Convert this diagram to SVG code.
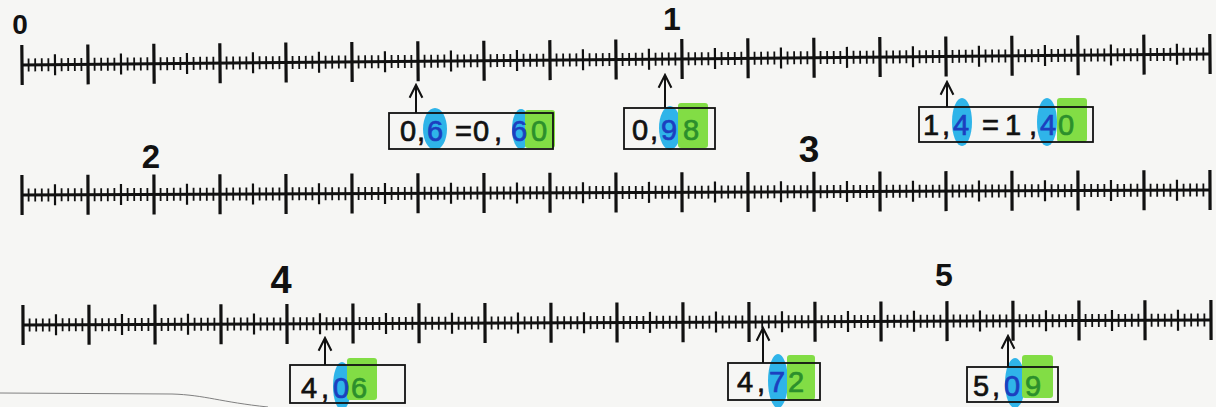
<svg xmlns="http://www.w3.org/2000/svg" width="1216" height="407" viewBox="0 0 1216 407">
<style>
.axis{stroke:#111;stroke-width:3;fill:none}
.minor{stroke:#111;stroke-width:13;stroke-dasharray:1.8 4.8;fill:none}
.mid{stroke:#111;stroke-width:21;stroke-dasharray:2.2 63.8;fill:none}
.major{stroke:#111;stroke-width:40;stroke-dasharray:3.2 62.8;fill:none}
.lbl{font-family:"Liberation Sans",Arial,sans-serif;font-weight:bold;fill:#111;text-anchor:middle}
.box{fill:none;stroke:#111;stroke-width:1.8}
.num{font-family:"Liberation Sans",Arial,sans-serif;font-size:29px;fill:#111;stroke:#111;stroke-width:0.7}
.hb{fill:#2fb4e9}
.hg{fill:#82dd45}
.tb{fill:#1c3fbf;stroke:#1c3fbf}
.tg{fill:#2c8f2c;stroke:#2c8f2c}
.arr{stroke:#111;stroke-width:2;fill:none;marker-end:url(#head)}
</style>
<defs>
<marker id="head" viewBox="0 0 10 10" refX="9" refY="5" markerUnits="userSpaceOnUse" markerWidth="16" markerHeight="16" orient="auto">
<path d="M1,1 L9,5 L1,9" fill="none" stroke="#111" stroke-width="1.3"/>
</marker>
<g id="ruler">
<line class="axis" x1="0" y1="0" x2="1188" y2="0"/>
<line class="minor" x1="-0.9" y1="0" x2="1189" y2="0"/>
<line class="mid" x1="31.9" y1="0" x2="1189" y2="0"/>
<line class="major" x1="-1.6" y1="0" x2="1189.8" y2="0"/>
</g>
</defs>
<rect width="1216" height="407" fill="#f6f6f4"/>
<path d="M0,393 L172,394 C205,395 220,402 268,407" fill="none" stroke="#808080" stroke-width="1"/>

<g id="line1" transform="translate(22,65) rotate(-0.53)"><use href="#ruler"/></g>
<g id="line2" transform="translate(22,195) rotate(-0.24)"><use href="#ruler"/></g>
<g id="line3" transform="translate(23,325) rotate(-0.24)"><use href="#ruler"/></g>

<g id="labels">
<text class="lbl" x="20" y="34" font-size="28">0</text>
<text class="lbl" x="672" y="30" font-size="32">1</text>
<text class="lbl" x="151" y="168" font-size="33">2</text>
<text class="lbl" x="809" y="162" font-size="37">3</text>
<text class="lbl" x="281" y="293" font-size="38">4</text>
<text class="lbl" x="944" y="286" font-size="32">5</text>
</g>

<g id="box1">
<ellipse class="hb" cx="435" cy="129" rx="12" ry="21"/>
<ellipse class="hb" cx="521" cy="129" rx="9" ry="20"/>
<rect class="hg" x="525" y="110" width="30" height="38" rx="3"/>
<rect class="box" x="389" y="113" width="164" height="36"/>
<text class="num" y="141"><tspan x="400">0</tspan><tspan x="417">,</tspan><tspan x="427" class="tb">6</tspan><tspan x="455">=</tspan><tspan x="473">0</tspan><tspan x="494">,</tspan><tspan x="511" class="tb">6</tspan><tspan x="531" class="tg">0</tspan></text>
</g>

<g id="box2">
<ellipse class="hb" cx="670" cy="128" rx="11" ry="22"/>
<rect class="hg" x="678" y="103" width="30" height="45" rx="3"/>
<rect class="box" x="624" y="108" width="91" height="41"/>
<text class="num" y="140"><tspan x="632">0</tspan><tspan x="650">,</tspan><tspan x="661" class="tb">9</tspan><tspan x="683" class="tg">8</tspan></text>
</g>

<g id="box3">
<ellipse class="hb" cx="962" cy="122" rx="10" ry="24"/>
<ellipse class="hb" cx="1047" cy="122" rx="10" ry="24"/>
<rect class="hg" x="1057" y="98" width="30" height="44" rx="3"/>
<rect class="box" x="919" y="107" width="174" height="35"/>
<text class="num" y="135"><tspan x="923">1</tspan><tspan x="942">,</tspan><tspan x="953" class="tb">4</tspan><tspan x="982">=</tspan><tspan x="1005">1</tspan><tspan x="1029">,</tspan><tspan x="1040" class="tb">4</tspan><tspan x="1058" class="tg">0</tspan></text>
</g>

<g id="box4">
<ellipse class="hb" cx="342" cy="386" rx="9" ry="24"/>
<rect class="hg" x="347" y="358" width="30" height="42" rx="3"/>
<rect class="box" x="290" y="365" width="115" height="38"/>
<text class="num" y="398"><tspan x="301">4</tspan><tspan x="321">,</tspan><tspan x="333" class="tb">0</tspan><tspan x="351" class="tg">6</tspan></text>
</g>

<g id="box5">
<ellipse class="hb" cx="778" cy="381" rx="10" ry="27"/>
<rect class="hg" x="787" y="355" width="28" height="45" rx="3"/>
<rect class="box" x="728" y="363" width="92" height="37"/>
<text class="num" y="392"><tspan x="737">4</tspan><tspan x="757">,</tspan><tspan x="769" class="tb">7</tspan><tspan x="788" class="tg">2</tspan></text>
</g>

<g id="box6">
<ellipse class="hb" cx="1015" cy="383" rx="10" ry="25"/>
<rect class="hg" x="1022" y="355" width="31" height="43" rx="3"/>
<rect class="box" x="967" y="367" width="91" height="35"/>
<text class="num" y="396"><tspan x="973">5</tspan><tspan x="992">,</tspan><tspan x="1004" class="tb">0</tspan><tspan x="1025" class="tg">9</tspan></text>
</g>

<g id="connectors">
<line class="arr" x1="416" y1="113" x2="416" y2="85"/>
<line class="arr" x1="665" y1="108" x2="665" y2="75"/>
<line class="arr" x1="947" y1="107" x2="947" y2="82"/>
<line class="arr" x1="325" y1="365" x2="325" y2="338"/>
<line class="arr" x1="763" y1="363" x2="763" y2="328"/>
<line class="arr" x1="1008" y1="367" x2="1008" y2="336"/>
</g>
</svg>
